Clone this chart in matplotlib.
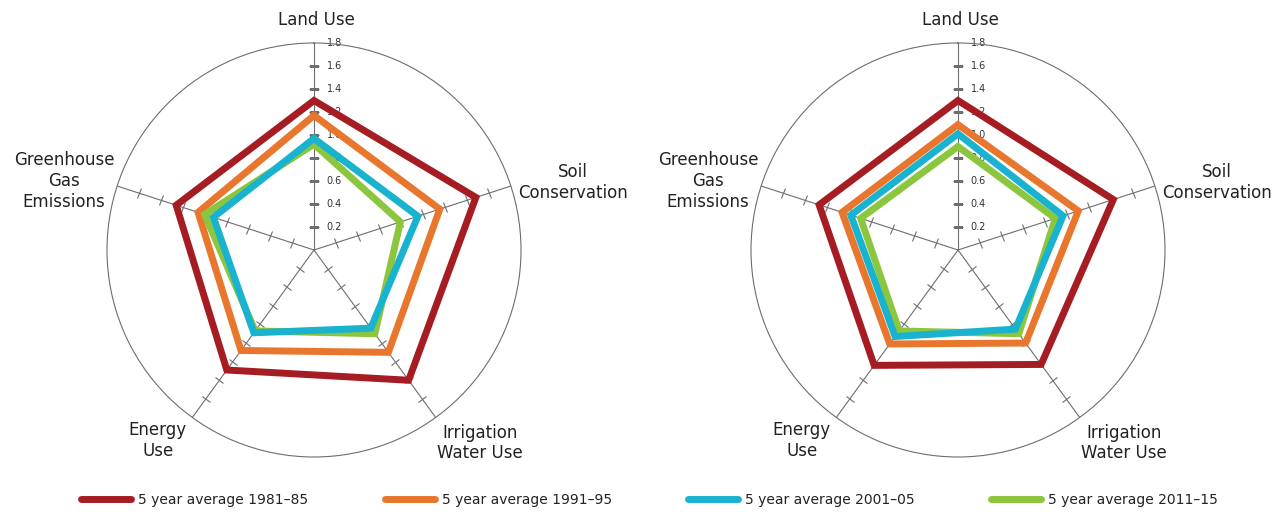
import matplotlib.pyplot as plt
import numpy as np
from matplotlib.markers import MarkerStyle
from matplotlib.transforms import Affine2D
from matplotlib.lines import Line2D

# categorias (sentido horario a partir do topo)
categorias = ['Land Use', 'Soil\nConservation', 'Irrigation\nWater Use',
              'Energy\nUse', 'Greenhouse\nGas\nEmissions']
series = ['5 year average 1981–85', '5 year average 1991–95',
          '5 year average 2001–05', '5 year average 2011–15']
cores = ['#A51D23', '#E8762D', '#8CC63E', '#19B3CF']

# valores por serie: Land Use, Soil, Irrigation, Energy, GHG
esq_1981 = [1.30, 1.48, 1.40, 1.29, 1.26]
esq_1991 = [1.17, 1.15, 1.10, 1.08, 1.06]
esq_2001 = [0.97, 0.95, 0.84, 0.89, 0.92]
esq_2011 = [0.92, 0.79, 0.90, 0.87, 1.00]

dir_1981 = [1.30, 1.42, 1.23, 1.24, 1.27]
dir_1991 = [1.09, 1.10, 1.00, 1.01, 1.06]
dir_2001 = [1.01, 0.96, 0.85, 0.93, 0.98]
dir_2011 = [0.90, 0.89, 0.90, 0.87, 0.89]

ticks_radiais = [0.2, 0.4, 0.6, 0.8, 1.0, 1.2, 1.4, 1.6, 1.8]

# posicao dos rotulos das categorias (fracao dos eixos)
pos_rotulos = [(0.505, 1.055), (1.126, 0.664), (0.901, 0.034),
               (0.123, 0.039), (-0.104, 0.667)]

angulos = np.deg2rad(np.arange(5) * 72)
cinza = '#6e6e6e'


def radar(ax, valores):
    ax.set_theta_offset(np.pi / 2)
    ax.set_theta_direction(-1)
    ax.set_ylim(0, 1.8)
    ax.grid(False)
    ax.set_xticks([])
    ax.set_yticks([])
    ax.spines['polar'].set_color(cinza)
    ax.spines['polar'].set_linewidth(0.8)

    # raios e marquinhas perpendiculares
    for th in angulos:
        ax.plot([th, th], [0, 1.8], color=cinza, lw=0.8, zorder=1)
        phi = 90 - np.rad2deg(th)
        rot = (phi + 90) % 180
        m = MarkerStyle('_', transform=Affine2D().rotate_deg(rot))
        ax.plot([th] * 8, ticks_radiais[:8], ls='none', marker=m,
                markersize=7, markeredgewidth=0.8, color=cinza, zorder=1)

    # numeros do eixo radial
    for r in ticks_radiais:
        ax.annotate(f'{r:.1f}', xy=(0, r), xytext=(9, 0),
                    textcoords='offset points', ha='left', va='center',
                    fontsize=7, color='#333333', zorder=2)

    # poligonos
    for v, c in zip(valores, cores):
        ax.fill(angulos, v, facecolor='none', edgecolor=c, lw=5,
                joinstyle='miter', zorder=3)

    for txt, (x, y) in zip(categorias, pos_rotulos):
        ax.text(x, y, txt, transform=ax.transAxes, ha='center',
                va='center', fontsize=12, color='#222222',
                linespacing=1.2)


fig = plt.figure(figsize=(12.81, 5.14), dpi=100)
ax1 = fig.add_axes([107 / 1281, 57 / 514, 414 / 1281, 414 / 514],
                   projection='polar')
ax2 = fig.add_axes([751 / 1281, 57 / 514, 414 / 1281, 414 / 514],
                   projection='polar')

radar(ax1, [esq_1981, esq_1991, esq_2011, esq_2001])
radar(ax2, [dir_1981, dir_1991, dir_2011, dir_2001])

# legenda
cores_leg = ['#A51D23', '#E8762D', '#19B3CF', '#8CC63E']
handles = [Line2D([0], [0], color=c, lw=5, solid_capstyle='round')
           for c in cores_leg]
fig.legend(handles, series, loc='center', bbox_to_anchor=(0.507, 14 / 514),
           ncol=4, frameon=False, fontsize=10, handlelength=3.6,
           handletextpad=0.5, columnspacing=5.5, labelcolor='#222222')

fig.savefig('out.png', dpi=100)
